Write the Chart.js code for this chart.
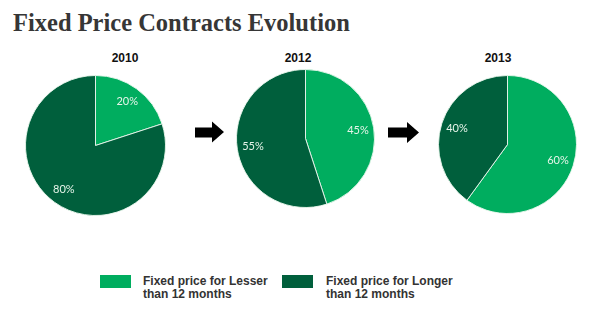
<!DOCTYPE html>
<html>
<head>
<meta charset="utf-8">
<script src="https://cdn.jsdelivr.net/npm/chart.js@4.4.1/dist/chart.umd.min.js"></script>
<style>
  body { margin: 0; background: #fff; width: 600px; height: 323px; position: relative; overflow: hidden; }
  .title { position: absolute; left: 13px; top: 9px; font-family: "Liberation Serif", serif; font-weight: bold; font-size: 24.5px; color: #363636; white-space: nowrap; }
  .year { position: absolute; font-family: "Liberation Sans", Arial, sans-serif; font-weight: bold; font-size: 12px; color: #111; transform: translateX(-50%); top: 51px; }
  .pie { position: absolute; }
  .arrow { position: absolute; }
  .legbox { position: absolute; width: 31px; height: 13px; }
  .legtxt { position: absolute; font-family: "Liberation Sans", Arial, sans-serif; font-weight: bold; font-size: 12px; line-height: 13px; color: #333; }
</style>
</head>
<body>
<div class="title">Fixed Price Contracts Evolution</div>

<div class="year" style="left:125px">2010</div>
<div class="year" style="left:298px">2012</div>
<div class="year" style="left:498px">2013</div>

<canvas id="pie0" class="pie" width="141" height="141" style="left:25px; top:75px"></canvas>
<canvas id="pie1" class="pie" width="139" height="139" style="left:236px; top:69px"></canvas>
<canvas id="pie2" class="pie" width="139" height="139" style="left:438px; top:75px"></canvas>

<svg class="arrow" style="left:190px; top:118px" width="40" height="30">
  <polygon points="5,9.5 22,9.5 22,3.5 34,14 22,24.5 22,19.5 5,19.5" fill="#000"/>
</svg>
<svg class="arrow" style="left:383px; top:118px" width="40" height="30">
  <polygon points="5,9.5 24,9.5 24,4 36,14.5 24,25 24,19.5 5,19.5" fill="#000"/>
</svg>

<div id="legend"></div>

<script>
// categories and values
const years = ['2010', '2012', '2013'];
const categories = ['Fixed price for Lesser than 12 months', 'Fixed price for Longer than 12 months'];
const lesserValues = [20, 45, 60];
const longerValues = [80, 55, 40];
const colors = ['#00ad5f', '#005f3c'];

// percentage labels inside the slices
const sliceLabels = {
    id: 'sliceLabels',
    afterDatasetsDraw(chart) {
        const ctx = chart.ctx;
        const meta = chart.getDatasetMeta(0);
        ctx.save();
        ctx.font = '11px Lato, "Open Sans", sans-serif';
        ctx.fillStyle = '#e6f5ea';
        ctx.textAlign = 'center';
        ctx.textBaseline = 'middle';
        meta.data.forEach((arc, i) => {
            const p = arc.getProps(['x', 'y', 'startAngle', 'endAngle', 'outerRadius'], true);
            const mid = (p.startAngle + p.endAngle) / 2;
            const r = p.outerRadius * 0.77;
            ctx.fillText(chart.data.datasets[0].data[i] + '%', p.x + Math.cos(mid) * r, p.y + Math.sin(mid) * r);
        });
        ctx.restore();
    }
};

years.forEach((year, i) => {
    new Chart(document.getElementById('pie' + i), {
        type: 'pie',
        data: {
            labels: categories,
            datasets: [{
                data: [lesserValues[i], longerValues[i]],
                backgroundColor: colors,
                borderColor: 'rgba(235,248,238,0.9)',
                borderWidth: 1
            }]
        },
        options: {
            responsive: false,
            animation: false,
            layout: { padding: 0 },
            plugins: {
                legend: { display: false },
                tooltip: { enabled: false }
            }
        },
        plugins: [sliceLabels]
    });
});

// legend built from the categories
const legend = document.getElementById('legend');
const legendPos = [[100, 143], [282, 326]];
categories.forEach((name, i) => {
    const box = document.createElement('div');
    box.className = 'legbox';
    box.style.left = legendPos[i][0] + 'px';
    box.style.top = '275px';
    box.style.background = colors[i];
    legend.appendChild(box);
    const txt = document.createElement('div');
    txt.className = 'legtxt';
    txt.style.left = legendPos[i][1] + 'px';
    txt.style.top = '275px';
    const words = name.split(' than ');
    txt.innerHTML = words[0] + '<br>than ' + words[1];
    legend.appendChild(txt);
});
</script>
</body>
</html>
